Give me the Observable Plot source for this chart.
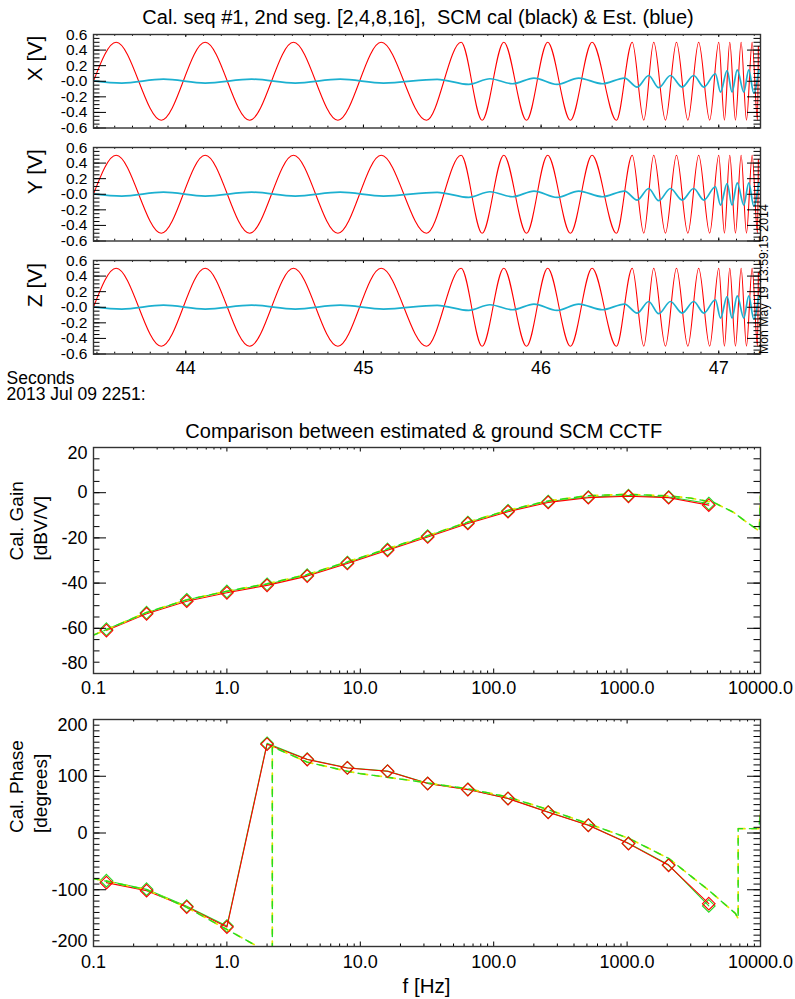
<!DOCTYPE html>
<html>
<head>
<meta charset="utf-8">
<script src="https://cdn.jsdelivr.net/npm/d3@7"></script>
<script src="https://cdn.jsdelivr.net/npm/@observablehq/plot@0.6"></script>
<style>
html,body{margin:0;padding:0;background:#fff;}
#chart{position:relative;width:795px;height:999px;overflow:hidden;background:#fff;}
#chart svg{position:absolute;left:0;overflow:visible;background:transparent;}
#chart svg text{white-space:pre;}
</style>
</head>
<body>
<div id="chart"></div>
<script>
// ---------------- data ----------------
const title1 = "Cal. seq #1, 2nd seg. [2,4,8,16],  SCM cal (black) & Est. (blue)";
const title2 = "Comparison between estimated & ground SCM CCTF";
const panelLabels = ["X [V]", "Y [V]", "Z [V]"];
const dateStamp = "Mon May 19 13:59:15 2014";
const timeCaption = "Seconds\n2013 Jul 09 2251:";
const gainLabel = "Cal. Gain\n[dBV/V]";
const phaseLabel = "Cal. Phase\n[degrees]";
const freqLabel = "f [Hz]";

// calibration signal (red): times of zero start / extrema, values
const redT = [43.480, 43.608, 43.862, 44.109, 44.359, 44.606, 44.856, 45.100, 45.355,
  45.550, 45.668, 45.790, 45.918, 46.037, 46.165, 46.287, 46.424,
  46.513, 46.578, 46.634, 46.700, 46.762, 46.826, 46.887, 46.949,
  47.000, 47.032, 47.062, 47.094, 47.126, 47.156, 47.188, 47.218, 47.223];
const redV = [0, 0.5, -0.5, 0.5, -0.5, 0.5, -0.5, 0.5, -0.5,
  0.5, -0.5, 0.5, -0.5, 0.5, -0.5, 0.5, -0.5,
  0.5, -0.5, 0.5, -0.5, 0.5, -0.5, 0.5, -0.5,
  0.5, -0.5, 0.5, -0.5, 0.5, -0.5, 0.5, -0.5, 0.45];
// estimated signal (blue)
const blueT = [43.480, 43.640, 43.874, 44.109, 44.371, 44.616, 44.869, 45.113, 45.415,
  45.593, 45.712, 45.840, 45.960, 46.090, 46.212, 46.345, 46.470,
  46.541, 46.606, 46.662, 46.728, 46.794, 46.859, 46.916, 46.981,
  47.010, 47.047, 47.075, 47.104, 47.141, 47.169, 47.197, 47.225];
const blueV = [0.005, -0.024, 0.027, -0.024, 0.027, -0.024, 0.027, -0.024, 0.025,
  -0.040, 0.032, -0.032, 0.041, -0.041, 0.041, -0.032, 0.041,
  -0.075, 0.074, -0.083, 0.074, -0.075, 0.074, -0.075, 0.096,
  -0.139, 0.138, -0.139, 0.147, -0.139, 0.147, -0.152, 0.138];

const sigTicks = [-0.6, -0.4, -0.2, 0, 0.2, 0.4, 0.6];
const sigTickLabels = ["-0.6", "-0.4", "-0.2", "-0.0", "0.2", "0.4", "0.6"];
const secTicks = [44, 45, 46, 47];
const secTickLabels = ["44", "45", "46", "47"];

// transfer function
const freqs = [0.125, 0.25, 0.5, 1, 2, 4, 8, 16, 32, 64, 128, 256, 512, 1024, 2048, 4096];
const gainRed   = [-61.0, -53.6, -48.0, -44.3, -41.0, -36.9, -31.3, -25.5, -19.6, -13.6, -8.4, -4.3, -2.2, -1.6, -2.2, -5.5];
const gainGreen = [-60.4, -53.1, -47.4, -43.7, -40.5, -36.5, -30.9, -25.1, -19.2, -13.2, -8.0, -3.9, -1.9, -1.3, -1.9, -4.8];
const phaseRed   = [-87.5, -101.6, -130.5, -165.8, 156.4, 129.4, 114.6, 108.8, 87.1, 76.5, 60.7, 36.5, 13.6, -18.7, -57.0, -124.5];
const phaseGreen = [-84, -99, -129, -164, 158, 130, 115, 109, 87.5, 77, 61, 37, 14, -18, -56, -128.5];

const modelGainF = [0.1, 0.125, 0.25, 0.5, 1, 2, 4, 8, 16, 32, 64, 128, 256, 512, 1024, 2048, 3000, 4450, 6280, 7940, 9800, 10000];
const modelGain  = [-63.0, -60.6, -53.0, -47.4, -43.6, -40.3, -36.2, -30.6, -24.8, -19.0, -13.0, -7.8, -3.6, -1.3, -0.7, -1.4, -2.4, -4.3, -8.7, -13.2, -17.0, -1.5];
const modelPhaseF = [0.1, 0.125, 0.25, 0.5, 1, 1.7, 2.19, 2.19, 4, 8, 10, 25.5, 44.8, 63, 128, 256, 512, 1030, 2048, 4096, 6500, 6800, 6800, 9700, 10000];
const modelPhase  = [-80.5, -85, -100, -131, -170, -200, -206, 152, 125, 108.8, 104.7, 91.7, 83, 78.3, 63.5, 41.2, 16.5, -9.4, -44.7, -101, -142, -151, 7.7, 7.7, 34];

const freqTicks = [0.1, 1, 10, 100, 1000, 10000];
const freqTickLabels = ["0.1", "1.0", "10.0", "100.0", "1000.0", "10000.0"];
const gainTicks = [-80, -60, -40, -20, 0, 20];
const gainTickLabels = ["-80", "-60", "-40", "-20", "0", "20"];
const phaseTicks = [-200, -100, 0, 100, 200];
const phaseTickLabels = ["-200", "-100", "0", "100", "200"];

// ---------------- layout / style ----------------
const W = 795, ML = 93, MR = 35, FW = W - ML - MR;
const FONT = "'Liberation Sans', Arial, Helvetica, sans-serif";
const RED = "#ff0000", GREEN = "#22dd22", YELLOW = "#e6e600", BLUE = "#1cb0d0";
const root = document.getElementById("chart");
const svgStyle = {background: "transparent", overflow: "visible", fontFamily: FONT};

function place(svg, top) { svg.style.top = top + "px"; svg.style.left = "0px"; root.appendChild(svg); }

function yTickMarks(major, minor, majLen, minLen) {
  const o = {stroke: "#000", strokeWidth: 1};
  return [
    Plot.ruleY(minor, {...o, insetRight: FW - minLen}),
    Plot.ruleY(minor, {...o, insetLeft: FW - minLen}),
    Plot.ruleY(major, {...o, insetRight: FW - majLen}),
    Plot.ruleY(major, {...o, insetLeft: FW - majLen})
  ];
}
function xTickMarks(major, minor, FH, majLen, minLen) {
  const o = {stroke: "#000", strokeWidth: 1};
  return [
    Plot.ruleX(minor, {...o, insetTop: FH - minLen}),
    Plot.ruleX(minor, {...o, insetBottom: FH - minLen}),
    Plot.ruleX(major, {...o, insetTop: FH - majLen}),
    Plot.ruleX(major, {...o, insetBottom: FH - majLen})
  ];
}
function yLabelMarks(ticks, labels, fontSize, dyBottom, dyTop) {
  const n = ticks.length, idx = d3.range(n);
  const base = {y: i => ticks[i], text: i => labels[i], frameAnchor: "left", textAnchor: "end", dx: -6, fontSize, fontFamily: FONT, fill: "#000"};
  return [
    Plot.text(idx.slice(1, n - 1), base),
    Plot.text([0], {...base, dy: dyBottom}),
    Plot.text([n - 1], {...base, dy: dyTop})
  ];
}
function xLabelMarks(ticks, labels, fontSize, pad) {
  return Plot.text(d3.range(ticks.length), {x: i => ticks[i], text: i => labels[i], frameAnchor: "bottom", lineAnchor: "top", dy: pad, fontSize, fontFamily: FONT, fill: "#000"});
}

// ---------------- time panels ----------------
const tDomain = [43.4805, 47.235];
const FH_T = 93.5;
const panelTops = [34, 147, 260];
const ri = d3.range(redT.length), bi = d3.range(blueT.length);
const secMinor = d3.range(435, 473).map(k => k / 10);
const sigMinor = d3.range(-12, 13).map(k => k * 0.05);

panelTops.forEach((top, p) => {
  const last = p === 2;
  const mt = 4, mb = last ? 30 : 4;
  const marks = [
    Plot.line(ri, {x: i => redT[i], y: i => redV[i], curve: "monotone-x", stroke: RED, strokeWidth: 1.1, clip: true}),
    Plot.line(bi, {x: i => blueT[i], y: i => blueV[i], curve: "monotone-x", stroke: BLUE, strokeWidth: 1.7, clip: true}),
    ...yTickMarks(sigTicks, sigMinor, 13, 6.5),
    ...xTickMarks(secTicks, secMinor, FH_T, 3, 1.8),
    Plot.frame({stroke: "#333", strokeWidth: 1.4}),
    ...yLabelMarks(sigTicks, sigTickLabels, 15.5, 0, 0.5),
    Plot.text([panelLabels[p]], {frameAnchor: "left", dx: -58.5, rotate: -90, fontSize: 21, fontFamily: FONT, fill: "#000"})
  ];
  if (p === 0) {
    marks.push(Plot.text([title1], {frameAnchor: "top", dx: 417.5 - (ML + FW / 2), dy: 23 - 34, lineAnchor: "bottom", fontSize: 20, fontFamily: FONT, fill: "#000"}));
  }
  if (last) {
    marks.push(xLabelMarks(secTicks, secTickLabels, 18, 7));
    marks.push(Plot.text([timeCaption], {frameAnchor: "bottom-left", textAnchor: "start", lineAnchor: "bottom", lineHeight: 0.92, dx: 6 - ML, dy: 399.5 - 353.5, fontSize: 17.5, fontFamily: FONT, fill: "#000"}));
    marks.push(Plot.text([dateStamp], {frameAnchor: "bottom-right", rotate: -90, textAnchor: "start", lineAnchor: "bottom", dx: 7.5, dy: 0, fontSize: 12.3, fontFamily: FONT, fill: "#000"}));
  }
  const svg = Plot.plot({
    width: W, height: mt + FH_T + mb, marginLeft: ML, marginRight: MR, marginTop: mt, marginBottom: mb,
    x: {type: "linear", domain: tDomain, axis: null},
    y: {domain: [-0.6, 0.6], axis: null},
    style: svgStyle,
    marks
  });
  place(svg, top - mt);
});

// ---------------- frequency plots ----------------
const fi = d3.range(freqs.length);
const decMinor = [0.1, 1, 10, 100, 1000].flatMap(d => d3.range(2, 10).map(k => d * k));
const gainMinor = d3.range(-80, 21, 5);
const phaseMinor = d3.range(-200, 201, 10);

function freqPlot({top, FH, mb, yDomain, mf, mv, gv, rv, yTicks, yLabels, yMinor, dyB, dyT, label, pad, extra}) {
  const mt = 10;
  const mi = d3.range(mf.length);
  const marks = [
    Plot.line(fi, {x: i => freqs[i], y: i => gv[i], stroke: GREEN, strokeWidth: 1.1}),
    Plot.dot(fi, {x: i => freqs[i], y: i => gv[i], symbol: "diamond2", r: 5.7, stroke: GREEN, fill: "none", strokeWidth: 1.1}),
    Plot.line(fi, {x: i => freqs[i], y: i => rv[i], stroke: RED, strokeWidth: 1.1}),
    Plot.line(mi, {x: i => mf[i], y: i => mv[i], stroke: YELLOW, strokeWidth: 1.7, strokeDasharray: "7,7", clip: true}),
    Plot.line(mi, {x: i => mf[i], y: i => mv[i], stroke: GREEN, strokeWidth: 1.4, strokeDasharray: "7,7", strokeDashoffset: 2.5, clip: true}),
    Plot.dot(fi, {x: i => freqs[i], y: i => rv[i], symbol: "diamond2", r: 5.7, stroke: RED, fill: "none", strokeWidth: 1.1}),
    ...yTickMarks(yTicks, yMinor, 13, 6.5),
    ...xTickMarks(freqTicks, decMinor, FH, 4.5, 2.5),
    Plot.frame({stroke: "#333", strokeWidth: 1.4}),
    ...yLabelMarks(yTicks, yLabels, 18, dyB, dyT),
    xLabelMarks(freqTicks, freqTickLabels, 18, pad),
    Plot.text([label], {frameAnchor: "left", dx: -66, rotate: -90, fontSize: 19, lineHeight: 1.26, fontFamily: FONT, fill: "#000"}),
    ...extra
  ];
  const svg = Plot.plot({
    width: W, height: mt + FH + mb, marginLeft: ML, marginRight: MR, marginTop: mt, marginBottom: mb,
    x: {type: "log", domain: [0.1, 10000], axis: null},
    y: {domain: yDomain, axis: null},
    style: svgStyle,
    marks
  });
  place(svg, top - mt);
}

freqPlot({
  top: 447, FH: 226, mb: 30, yDomain: [-80, 20],
  mf: modelGainF, mv: modelGain, gv: gainGreen, rv: gainRed,
  yTicks: gainTicks, yLabels: gainTickLabels, yMinor: gainMinor, dyB: -10, dyT: 6,
  label: gainLabel, pad: 8,
  extra: [Plot.text([title2], {frameAnchor: "top", dx: 423.3 - (ML + FW / 2), dy: 437 - 447, lineAnchor: "bottom", fontSize: 20, fontFamily: FONT, fill: "#000"})]
});

freqPlot({
  top: 719, FH: 227, mb: 53, yDomain: [-200, 200],
  mf: modelPhaseF, mv: modelPhase, gv: phaseGreen, rv: phaseRed,
  yTicks: phaseTicks, yLabels: phaseTickLabels, yMinor: phaseMinor, dyB: -5.5, dyT: 6,
  label: phaseLabel, pad: 9,
  extra: [Plot.text([freqLabel], {frameAnchor: "bottom", dx: 426 - (ML + FW / 2), dy: 992 - 946, lineAnchor: "bottom", fontSize: 20.5, fontFamily: FONT, fill: "#000"})]
});
</script>
</body>
</html>
